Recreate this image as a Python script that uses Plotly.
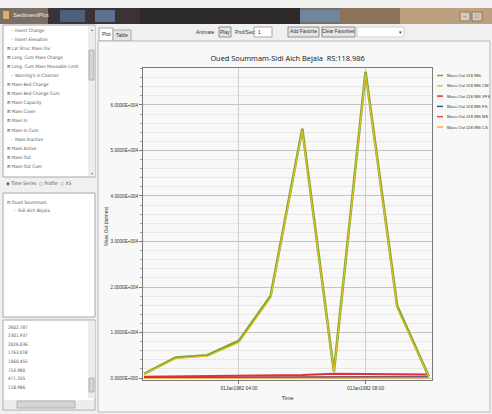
import plotly.graph_objects as go

# ---------------- data ----------------
times = ["1982-01-01 01:00", "1982-01-01 02:00", "1982-01-01 03:00", "1982-01-01 04:00",
         "1982-01-01 05:00", "1982-01-01 06:00", "1982-01-01 07:00", "1982-01-01 08:00",
         "1982-01-01 09:00", "1982-01-01 10:00"]
series_names = ["Mass Out 118.986", "Mass Out 118.986 CM", "Mass Out 118.986 VFS",
                "Mass Out 118.986 FS", "Mass Out 118.986 MS", "Mass Out 118.986 CS"]
mass_total = [900, 4500, 5000, 8200, 18000, 54800, 1400, 67300, 15800, 300]
mass_cm = [800, 4300, 4800, 7800, 17600, 54400, 1200, 66900, 15300, 200]
mass_vfs = [300, 350, 400, 500, 550, 650, 950, 800, 800, 750]
mass_fs = [120, 140, 150, 180, 200, 230, 320, 280, 280, 260]
mass_ms = [150, 180, 200, 250, 280, 300, 450, 400, 400, 380]
mass_cs = [20, 30, 30, 40, 50, 60, 80, 70, 70, 60]
series_values = [mass_total, mass_cm, mass_vfs, mass_fs, mass_ms, mass_cs]
series_colors = ["#84A62C", "#E2C22C", "#E0303A", "#3A5A86", "#E24858", "#F2B233"]
series_widths = [2.6, 1.1, 2.0, 1.0, 1.0, 1.6]

y_tickvals = [0, 10000, 20000, 30000, 40000, 50000, 60000]
y_ticktext = ["0.0000E+000", "1.0000E+004", "2.0000E+004", "3.0000E+004",
              "4.0000E+004", "5.0000E+004", "6.0000E+004"]
x_tickvals = ["1982-01-01 04:00", "1982-01-01 08:00"]
x_ticktext = ["01Jan1982 04:00", "01Jan1982 08:00"]

chart_title = "Oued Soummam-Sidi Aich Bejaia  RS:118.986"
y_title = "Mass Out (tonnes)"
x_title = "Time"

variables = ["Invert Change", "Invert Elevation", "Lat Struc Mass Div", "Long. Cum Mass Change",
             "Long. Cum Mass Moveable Limit", "Warning's in Channel", "Mass Bed Change",
             "Mass Bed Change Cum", "Mass Capacity", "Mass Cover", "Mass In", "Mass In Cum",
             "Mass Inactive", "Mass Active", "Mass Out", "Mass Out Cum"]
expandable = [False, False, True, True, True, False, True, True, True, True, True, True,
              False, True, True, True]
stations = ["2602.787", "2301.937", "2026.036", "1763.018", "1060.455", "753.980",
            "471.255", "118.986"]

# ---------------- layout helpers ----------------
W, H = 492, 414
PL, PR, PT, PB = 143, 432, 68, 380
FONT = "Liberation Sans Narrow, Liberation Sans, Arial, sans-serif"
UIFONT = "DejaVu Sans Condensed, Liberation Sans, sans-serif"


def fx(px):
    return (px - PL) / (PR - PL)


def fy(py):
    return (PB - py) / (PB - PT)


shapes = []
annotations = []


def rect(x0, y0, x1, y1, fill, line=None, lw=1, layer="below"):
    shapes.append(dict(type="rect", xref="paper", yref="paper",
                       x0=fx(x0), x1=fx(x1), y0=fy(y1), y1=fy(y0),
                       fillcolor=fill,
                       line=dict(color=line if line else fill, width=lw if line else 0),
                       layer=layer))


def hline(x0, x1, y, color, w=1, layer="below"):
    shapes.append(dict(type="line", xref="paper", yref="paper",
                       x0=fx(x0), x1=fx(x1), y0=fy(y), y1=fy(y),
                       line=dict(color=color, width=w), layer=layer))


def text(px, py, s, size=5.5, anchor="left", color="#333333", angle=0, family=FONT):
    annotations.append(dict(xref="paper", yref="paper", x=fx(px), y=fy(py), text=s,
                            showarrow=False, xanchor=anchor, yanchor="middle",
                            textangle=angle, font=dict(size=size, color=color, family=family)))


# window title bar
rect(0, 8, 492, 24, "#7C6E62")
rect(48, 8, 140, 24, "#3A3236")
rect(60, 10, 85, 22, "#4E6078")
rect(95, 10, 115, 22, "#5C7290")
rect(140, 8, 300, 24, "#2E2A2A")
rect(300, 10, 340, 22, "#6E86A0")
rect(340, 8, 400, 24, "#8C7258")
rect(400, 8, 492, 24, "#BCA080")
rect(3, 11, 9, 19, "#D8B060")
text(11, 15, "SedimentPlot", size=6, color="#EEEEEE")
rect(460, 12, 470, 21, "#D8C8B8", "#8A7A6A")
rect(472, 12, 482, 21, "#D8C8B8", "#8A7A6A")
text(465, 16.5, "–", size=6, anchor="center", color="#555555")
text(477, 16.5, "□", size=6, anchor="center", color="#555555")

# left panel list 1
rect(3, 25, 95, 177, "#FFFFFF", "#A8A8A8")
rect(88, 26, 95, 176, "#EDEDED")
rect(89, 50, 94, 80, "#D4D4D4", "#B0B0B0")
text(91.5, 29, "▴", size=4, anchor="center", color="#777777")
text(91.5, 173, "▾", size=4, anchor="center", color="#777777")
for i, (name, ex) in enumerate(zip(variables, expandable)):
    y = 30 + i * 9.1
    if ex:
        text(5, y, "⊞ " + name, size=4.6, family=UIFONT, color="#555555")
    else:
        text(9, y, "·· " + name, size=4.6, family=UIFONT, color="#555555")

# radio row
text(4, 183, "◉ Time Series  ○ Profile  ○ XS", size=4.8, family=UIFONT, color="#555555")

# list 2
rect(3, 193, 95, 317, "#FFFFFF", "#A8A8A8")
text(5, 202, "⊟ Oued Soummam", size=4.6, family=UIFONT, color="#555555")
text(12, 210, "·· Sidi Aich Bejaia", size=4.6, family=UIFONT, color="#555555")

# list 3
rect(3, 320, 95, 410, "#FFFFFF", "#A8A8A8")
for i, s in enumerate(stations):
    text(6, 327 + i * 8.6, s, size=4.6, family=UIFONT, color="#555555")
rect(88, 321, 95, 398, "#EDEDED")
rect(89, 378, 94, 392, "#D4D4D4", "#B0B0B0")
rect(4, 400, 94, 409, "#EDEDED")
rect(17, 401, 75, 408, "#D4D4D4", "#B0B0B0")

# tabs
rect(99, 28, 113, 41, "#FFFFFF", "#A8A8A8")
text(106, 34, "Plot", size=5, anchor="center")
rect(113, 30, 131, 41, "#E4E4E4", "#A8A8A8")
text(122, 35, "Table", size=5, anchor="center")

# toolbar
text(217, 32, "Animate", size=5, anchor="right")
rect(219, 27, 231, 37, "#E6E6E6", "#909090")
text(225, 32, "Play", size=5, anchor="center")
text(233, 32, "Prof/Sec:", size=5)
rect(254, 27, 272, 37, "#FFFFFF", "#A8A8A8")
text(256, 32, "1", size=5)
rect(288, 27, 319, 37, "#E6E6E6", "#909090")
text(303.5, 32, "Add Favorite", size=4.8, anchor="center")
rect(322, 27, 355, 37, "#E6E6E6", "#909090")
text(338.5, 32, "Clear Favorites", size=4.8, anchor="center")
rect(357, 27, 404, 37, "#FFFFFF", "#D0D0D0")
text(400, 32, "▾", size=5, anchor="center", color="#333333")

# chart panel
rect(98, 41, 490, 412, "#F8F8F8", "#B8B8B8")

# legend (manual, compact)
for i, (name, col) in enumerate(zip(series_names, series_colors)):
    y = 75.5 + i * 10.3
    hline(437, 443, y, col, 1.5, layer="above")
    text(444.5, y, name, size=4.2)

# y-axis title
text(106, 226, y_title, size=4.8, anchor="center", angle=-90)

# ---------------- figure ----------------
fig = go.Figure()
draw_order = [5, 4, 3, 2, 0, 1]
for idx in draw_order:
    fig.add_trace(go.Scatter(x=times, y=series_values[idx], mode="lines",
                             name=series_names[idx],
                             line=dict(color=series_colors[idx], width=series_widths[idx]),
                             showlegend=False))

fig.update_layout(
    width=W, height=H,
    margin=dict(l=PL, r=W - PR, t=PT, b=H - PB, pad=0),
    paper_bgcolor="#F0F0F0",
    plot_bgcolor="#FBFBFB",
    font=dict(family=FONT, size=5.5, color="#333333"),
    title=dict(text=chart_title, xref="paper", x=0.5, xanchor="center",
               yref="container", y=1 - 58 / H, yanchor="middle",
               font=dict(size=7.4, color="#111111", family="Open Sans, " + FONT)),
    shapes=shapes,
    annotations=annotations,
    showlegend=False,
)

fig.update_xaxes(
    range=["1982-01-01 00:58", "1982-01-01 10:06"],
    tickvals=x_tickvals, ticktext=x_ticktext,
    showgrid=True, gridcolor="#CFCFCF", gridwidth=1,
    showline=True, linecolor="#7A7A7A", linewidth=1, mirror=True,
    ticks="outside", ticklen=3, tickcolor="#7A7A7A",
    tickfont=dict(size=4.8, color="#333333"),
    title=dict(text=x_title, font=dict(size=5.6, color="#333333"), standoff=6),
    zeroline=False,
)
fig.update_yaxes(
    range=[-440, 68130],
    tickvals=y_tickvals, ticktext=y_ticktext,
    showgrid=True, gridcolor="#C4C4C4", gridwidth=1,
    showline=True, linecolor="#7A7A7A", linewidth=1, mirror=True,
    ticks="outside", ticklen=3, tickcolor="#7A7A7A",
    tickfont=dict(size=4.6, color="#333333"),
    minor=dict(dtick=2000, tick0=0, showgrid=True, gridcolor="#E8E8E8",
               ticks="outside", ticklen=2, tickcolor="#9A9A9A"),
    zeroline=False,
)

fig.write_html(
    "out.html",
    config={"displayModeBar": False},
    post_script="document.body.style.margin='0';document.body.style.overflow='hidden';",
)
